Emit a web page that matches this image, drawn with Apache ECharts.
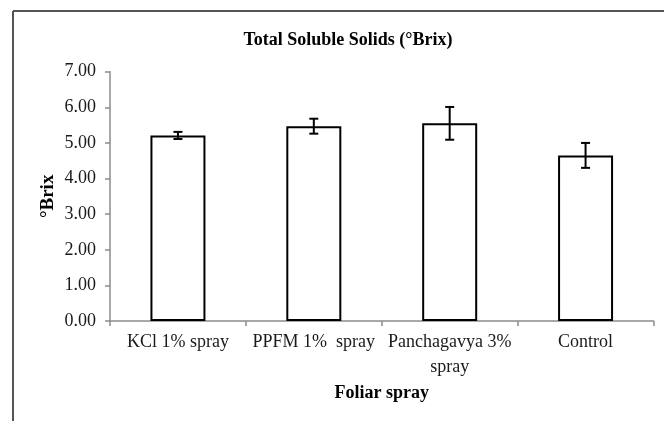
<!DOCTYPE html>
<html>
<head>
<meta charset="utf-8">
<script src="https://cdn.jsdelivr.net/npm/echarts@6/dist/echarts.min.js"></script>
<style>html,body{margin:0;padding:0;background:#fff}#c{width:664px;height:421px}</style>
</head>
<body>
<div id="c"></div>
<script>
var categories = ['KCl 1% spray', 'PPFM 1%  spray', 'Panchagavya 3%\nspray', 'Control'];
var values = [5.21, 5.47, 5.55, 4.65];
var errors = [0.10, 0.21, 0.46, 0.35];
var yTicks = [0, 1, 2, 3, 4, 5, 6, 7];

var chart = echarts.init(document.getElementById('c'), null, {renderer: 'canvas'});
var serif = '"Liberation Serif", "Times New Roman", serif';
var errData = values.map(function (v, i) { return [i, v - errors[i], v + errors[i]]; });

chart.setOption({
  animation: false,
  backgroundColor: '#fff',
  title: {
    text: 'Total Soluble Solids (°Brix)',
    left: 343, top: 26, textAlign: 'center',
    textStyle: {fontFamily: serif, fontSize: 18, fontWeight: 'bold', color: '#000'}
  },
  graphic: [
    {type: 'line', shape: {x1: 13, y1: 11, x2: 664, y2: 11}, style: {stroke: '#555', lineWidth: 2}},
    {type: 'line', shape: {x1: 13, y1: 11, x2: 13, y2: 421}, style: {stroke: '#555', lineWidth: 2}}
  ],
  grid: {left: 110, right: 10.5, top: 71.7, bottom: 100, containLabel: false},
  xAxis: {
    type: 'category', data: categories,
    name: 'Foliar spray', nameLocation: 'middle', nameGap: 63, nameMoveOverlap: false,
    nameTextStyle: {fontFamily: serif, fontSize: 18, fontWeight: 'bold', color: '#000'},
    axisLine: {lineStyle: {color: '#8c8c8c', width: 1.5}},
    axisTick: {show: true, length: 5, lineStyle: {color: '#8c8c8c', width: 1.5}},
    axisLabel: {fontFamily: serif, fontSize: 18, color: '#1a1a1a', margin: 9, lineHeight: 25, interval: 0},
    splitLine: {show: false}
  },
  yAxis: {
    type: 'value', min: 0, max: 7, interval: 1,
    name: '°Brix', nameLocation: 'middle', nameGap: 52, nameRotate: 90, nameMoveOverlap: false,
    nameTextStyle: {fontFamily: serif, fontSize: 19, fontWeight: 'bold', color: '#000'},
    axisLine: {show: true, lineStyle: {color: '#8c8c8c', width: 1.5}},
    axisTick: {show: true, length: 5, lineStyle: {color: '#8c8c8c', width: 1.5}},
    axisLabel: {fontFamily: serif, fontSize: 18, color: '#1a1a1a', margin: 14,
      formatter: function (v) { return yTicks.indexOf(v) >= 0 ? v.toFixed(2) : ''; }},
    splitLine: {show: false}
  },
  series: [
    {
      type: 'bar', data: values, barWidth: 55,
      itemStyle: {color: '#fff', borderColor: '#000', borderWidth: 2},
      z: 2
    },
    {
      type: 'custom', data: errData, z: 3,
      renderItem: function (params, api) {
        var x = api.value(0);
        var lo = api.coord([x, api.value(1)]);
        var hi = api.coord([x, api.value(2)]);
        var hw = 4.5;
        var st = {stroke: '#000', lineWidth: 2, fill: null};
        return {
          type: 'group',
          children: [
            {type: 'line', shape: {x1: lo[0], y1: lo[1], x2: hi[0], y2: hi[1]}, style: st},
            {type: 'line', shape: {x1: hi[0] - hw, y1: hi[1], x2: hi[0] + hw, y2: hi[1]}, style: st},
            {type: 'line', shape: {x1: lo[0] - hw, y1: lo[1], x2: lo[0] + hw, y2: lo[1]}, style: st}
          ]
        };
      }
    }
  ]
});
</script>
</body>
</html>
